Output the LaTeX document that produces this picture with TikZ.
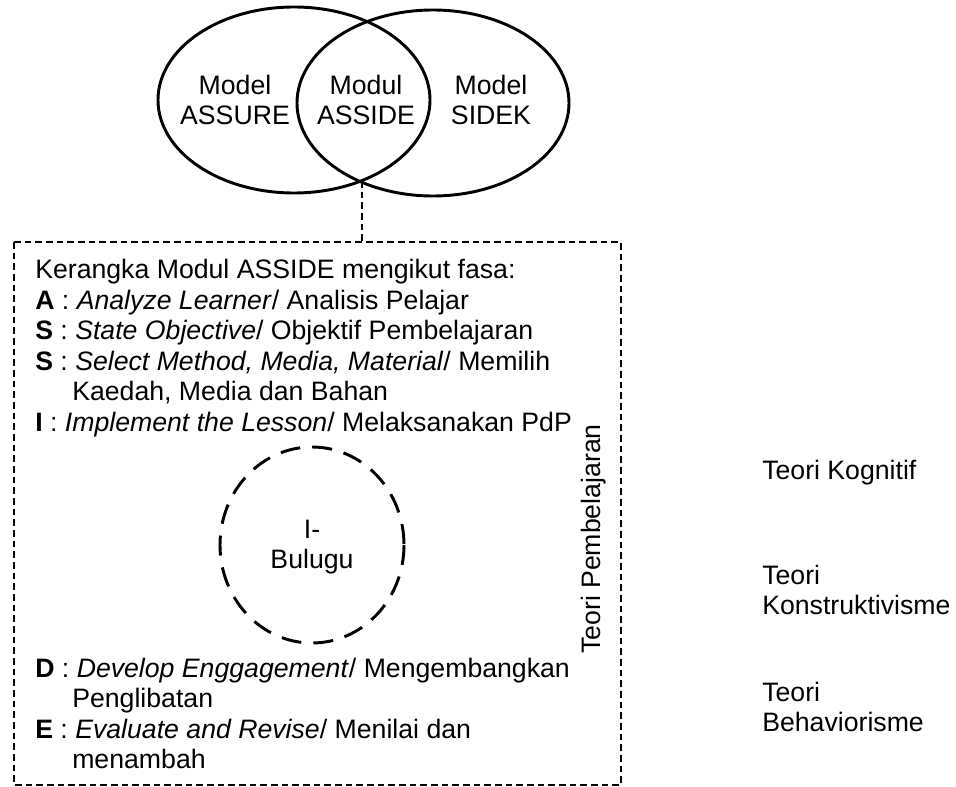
\documentclass[tikz,border=0pt]{standalone}
\usepackage{fontspec}
\setmainfont{Liberation Sans}
\begin{document}
\begin{tikzpicture}[x=0.75pt,y=-0.75pt]
	\tikzstyle{every node} = [font=\fontsize{20}{22.5}\selectfont, inner sep=0pt];
	\tikzstyle{venn} = [black, line width=2.2pt];
	\tikzstyle{frame} = [black, line width=1pt, dash pattern=on 5pt off 3pt];
	\tikzstyle{ring} = [black, line width=2.2pt, dash pattern=on 15pt off 9pt];
	\tikzstyle{line} = [anchor=base west];
	\useasboundingbox (0,0) rectangle (956,787);
	\draw[venn] (294,100) ellipse (136 and 93);
	\draw[venn] (433,103) ellipse (136 and 93);
	\node[align=center] (assure) at (235,100) {Model\\ASSURE};
	\node[align=center] (asside) at (366,100) {Modul\\ASSIDE};
	\node[align=center] (sidek) at (491,100) {Model\\SIDEK};
	\coordinate (meet) at (362,181);
	\coordinate (top) at (362,242);
	\draw[frame] (meet) -- (top);
	\draw[frame] (14,242) rectangle (621,785);
	\node[line] (intro) at (35,279) {Kerangka Modul ASSIDE mengikut fasa:};
	\node[line] (a) at (35,309.5) {\textbf{A} : \textit{Analyze Learner}/ Analisis Pelajar};
	\node[line] (s1) at (35,340) {\textbf{S} : \textit{State Objective}/ Objektif Pembelajaran};
	\node[line] (s2) at (35,370.5) {\textbf{S} : \textit{Select Method, Media, Material}/ Memilih};
	\node[line] (s2b) at (72,401) {Kaedah, Media dan Bahan};
	\node[line] (i) at (35,431.5) {\textbf{I} : \textit{Implement the Lesson}/ Melaksanakan PdP};
	\draw[ring] (312,545) ellipse (92 and 98);
	\node[align=center] (bulugu) at (312,547) {I-\\Bulugu};
	\node[line] (d) at (35,677) {\textbf{D} : \textit{Develop Enggagement}/ Mengembangkan};
	\node[line] (db) at (72,707.5) {Penglibatan};
	\node[line] (e) at (35,738) {\textbf{E} : \textit{Evaluate and Revise}/ Menilai dan};
	\node[line] (eb) at (72,768.5) {menambah};
	\node[rotate=90] (teori) at (594,539) {Teori Pembelajaran};
	\node[anchor=west] (kog) at (762,473) {Teori Kognitif};
	\node[anchor=west, align=left] (kons) at (762,590) {Teori\\Konstruktivisme};
	\node[anchor=west, align=left] (beh) at (762,707) {Teori\\Behaviorisme};
\end{tikzpicture}
\end{document}
